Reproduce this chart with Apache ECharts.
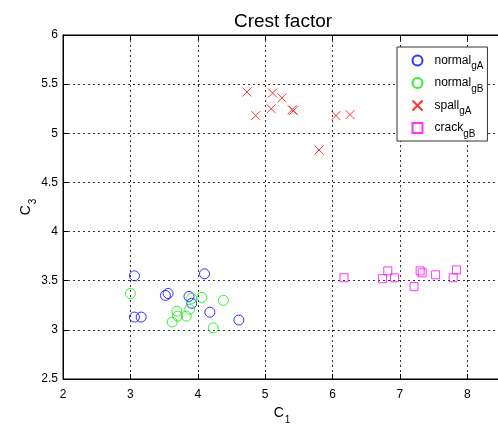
<!DOCTYPE html>
<html><head><meta charset="utf-8">
<script src="https://cdn.jsdelivr.net/npm/echarts@6/dist/echarts.min.js"></script>
<style>html,body{margin:0;padding:0;background:#fff}#c{width:498px;height:427px}</style>
</head><body><div id="c"></div>
<script>
const normalGA_C1 = [3.06, 3.06, 3.16, 3.52, 3.56, 3.87, 3.91, 4.10, 4.18, 4.61];
const normalGA_C3 = [3.55, 3.13, 3.13, 3.35, 3.37, 3.34, 3.27, 3.57, 3.18, 3.10];
const normalGB_C1 = [3.00, 3.69, 3.62, 3.70, 3.83, 3.88, 3.91, 4.06, 4.38, 4.23];
const normalGB_C3 = [3.37, 3.19, 3.08, 3.14, 3.14, 3.21, 3.32, 3.33, 3.30, 3.02];
const spallGA_C1 = [4.73, 4.86, 5.11, 5.25, 5.09, 5.40, 5.42, 5.80, 6.05, 6.26];
const spallGA_C3 = [5.42, 5.18, 5.41, 5.36, 5.25, 5.24, 5.23, 4.83, 5.18, 5.19];
const crackGB_C1 = [6.17, 6.74, 6.82, 6.92, 7.21, 7.30, 7.33, 7.53, 7.79, 7.84];
const crackGB_C3 = [3.53, 3.52, 3.60, 3.53, 3.44, 3.60, 3.58, 3.56, 3.53, 3.61];
const seriesNames = ['normal_gA', 'normal_gB', 'spall_gA', 'crack_gB'];
const xTicks = [2, 3, 4, 5, 6, 7, 8];
const yTicks = [2.5, 3, 3.5, 4, 4.5, 5, 5.5, 6];

const pair = (a, b) => a.map((v, i) => [v, b[i]]);
const chart = echarts.init(document.getElementById('c'), null, {renderer: 'canvas'});
const FONT = 'Liberation Sans';
const grid = {type: [2, 3], color: '#333', width: 1};
const xMarker = 'path://M0,0L10,10M10,0L0,10';
chart.setOption({
  animation: false,
  backgroundColor: '#fff',
  title: {text: 'Crest factor', left: 278, textAlign: 'center', top: 7,
    textStyle: {fontFamily: FONT, fontSize: 19, fontWeight: 'normal', color: '#000'}},
  grid: {left: 63, top: 35, width: 438, height: 344, outerBoundsMode: 'none', containLabel: false,
    show: true, borderColor: '#000', borderWidth: 1, backgroundColor: '#fff'},
  legend: {
    orient: 'vertical', left: 397, top: 47, padding: [6, 4, 2, 13],
    backgroundColor: '#fff', borderColor: '#333', borderWidth: 1,
    itemWidth: 10, itemHeight: 10, itemGap: 4,
    data: seriesNames,
    formatter: n => { const p = n.split('_'); return '{a|' + p[0] + '}{s|' + p[1] + '}'; },
    textStyle: {fontFamily: FONT, color: '#000',
      rich: {a: {fontFamily: FONT, fontSize: 12, lineHeight: 12, padding: [0, 0, 0, 7], verticalAlign: 'top', color: '#000'},
             s: {fontFamily: FONT, fontSize: 10, lineHeight: 10, padding: [7, 0, 0, 0], verticalAlign: 'top', color: '#000'}}}
  },
  xAxis: [{
    type: 'value', min: 2, max: 8.5, interval: 1, position: 'bottom',
    axisLine: {lineStyle: {color: '#000'}},
    axisTick: {inside: true, length: 5, lineStyle: {color: '#000'}},
    axisLabel: {fontFamily: FONT, fontSize: 12, color: '#000', margin: 10,
      formatter: v => xTicks.includes(v) ? String(v) : ''},
    splitLine: {show: true, lineStyle: grid},
    name: '{c|C}{s|1}', nameLocation: 'middle', nameGap: 27,
    nameTextStyle: {rich: {c: {fontFamily: FONT, fontSize: 14, lineHeight: 14, verticalAlign: 'top', color: '#000'},
      s: {fontFamily: FONT, fontSize: 10, lineHeight: 10, padding: [9, 0, 0, 1], verticalAlign: 'top', color: '#000'}}}
  }, {
    type: 'value', min: 2, max: 8.5, interval: 1, position: 'top',
    axisLine: {lineStyle: {color: '#000'}},
    axisTick: {inside: true, length: 5, lineStyle: {color: '#000'}},
    axisLabel: {show: false}, splitLine: {show: false}
  }],
  yAxis: [{
    type: 'value', min: 2.5, max: 6, interval: 0.5,
    axisLine: {show: true, lineStyle: {color: '#000'}},
    axisTick: {show: true, inside: true, length: 5, lineStyle: {color: '#000'}},
    axisLabel: {fontFamily: FONT, fontSize: 12, color: '#000', margin: 5,
      formatter: v => yTicks.includes(v) ? String(v) : ''},
    splitLine: {show: true, lineStyle: grid},
    name: '{c|C}{s|3}', nameLocation: 'middle', nameGap: 30, nameRotate: 90, nameMoveOverlap: false,
    nameTextStyle: {rich: {c: {fontFamily: FONT, fontSize: 14, lineHeight: 14, verticalAlign: 'top', color: '#000'},
      s: {fontFamily: FONT, fontSize: 10, lineHeight: 10, padding: [9, 0, 0, 1], verticalAlign: 'top', color: '#000'}}}
  }],
  series: [
    {name: seriesNames[0], type: 'scatter', symbol: 'circle', symbolSize: 10, data: pair(normalGA_C1, normalGA_C3),
      itemStyle: {color: 'none', borderColor: '#0000ff', borderWidth: 1}},
    {name: seriesNames[1], type: 'scatter', symbol: 'circle', symbolSize: 10, data: pair(normalGB_C1, normalGB_C3),
      itemStyle: {color: 'none', borderColor: '#00ee00', borderWidth: 1}},
    {name: seriesNames[2], type: 'scatter', symbol: xMarker, symbolSize: 9, data: pair(spallGA_C1, spallGA_C3),
      itemStyle: {color: 'none', borderColor: '#ff0000', borderWidth: 1}},
    {name: seriesNames[3], type: 'scatter', symbol: 'rect', symbolSize: 8, data: pair(crackGB_C1, crackGB_C3),
      itemStyle: {color: 'none', borderColor: '#ff00ff', borderWidth: 1}}
  ]
});
</script></body></html>
